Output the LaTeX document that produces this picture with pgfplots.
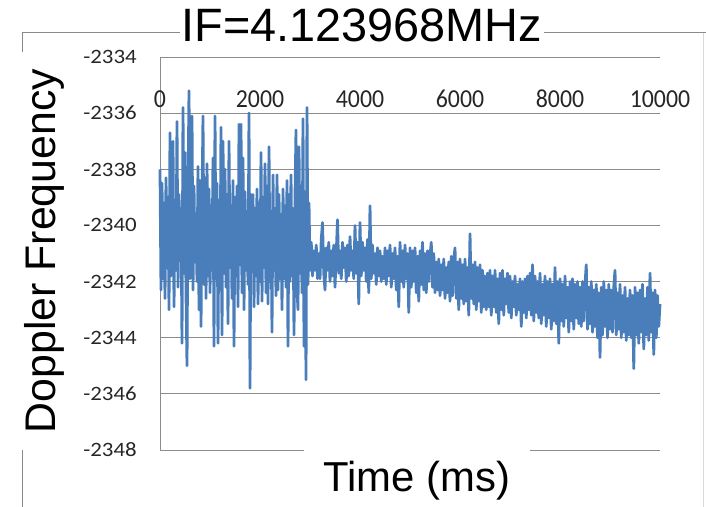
\documentclass[border=0pt]{standalone}
\usepackage{pgfplots}
\pgfplotsset{compat=1.18}
\usepackage{fontspec}
\setmainfont{Liberation Sans}
\newfontfamily\calibri{Carlito}
\definecolor{serblue}{HTML}{4A7EBB}
\definecolor{gridgray}{HTML}{8C8C8C}
\definecolor{bordergray}{HTML}{8A8A8A}
\begin{document}
\begin{tikzpicture}[x=1bp,y=1bp]
\path[use as bounding box] (0,0) rectangle (706,-507);
\draw[bordergray, line width=1bp] (22,-507) -- (22,-33) -- (706,-33);
\draw[black!15, line width=1bp] (703,-33) -- (703,-507);
\begin{axis}[
  at={(160bp,-450bp)}, anchor=south west,
  scale only axis, width=500bp, height=393bp,
  xmin=0, xmax=10000, ymin=-2348, ymax=-2334,
  ytick={-2348,-2346,...,-2334},
  xtick={0,2000,...,10000},
  scaled x ticks=false, scaled y ticks=false,
  axis x line*=top, axis y line*=left,
  x axis line style={draw=none},
  y axis line style={draw=gridgray, line width=1bp, -},
  ymajorgrids, grid style={gridgray, line width=1bp},
  major tick length=0pt,
  /pgf/number format/assume math mode=true,
  /pgf/number format/1000 sep={},
  xticklabel style={font=\calibri\fontsize{26}{26}\selectfont, anchor=base, inner sep=0pt, yshift=-50bp, xscale=0.92, text=black!85},
  yticklabel style={font=\calibri\fontsize{20.5}{20.5}\selectfont, anchor=east, inner sep=0pt, xshift=-23bp, xscale=1.12, text=black!85},
  clip=false,
]
\addplot[serblue, line width=2.8bp, line join=round, no markers] table {
x y
0 -2338.0
20 -2342.3
40 -2338.5
60 -2341.9
80 -2339.2
100 -2342.6
120 -2338.3
140 -2341.5
160 -2339.0
180 -2343.0
200 -2336.7
220 -2341.8
240 -2338.6
260 -2337.0
280 -2342.9
300 -2339.1
320 -2341.6
340 -2336.3
360 -2342.2
380 -2338.9
400 -2341.0
420 -2339.4
440 -2344.2
460 -2335.8
480 -2341.7
500 -2337.4
520 -2342.4
540 -2345.0
560 -2338.8
580 -2335.2
600 -2341.9
620 -2339.0
640 -2336.1
660 -2342.3
680 -2338.6
700 -2341.3
720 -2339.7
740 -2342.0
760 -2337.9
780 -2343.0
800 -2338.4
820 -2343.6
840 -2339.2
860 -2336.1
880 -2342.1
900 -2338.3
920 -2342.6
940 -2337.8
960 -2341.8
980 -2338.7
1000 -2342.4
1020 -2339.3
1040 -2341.6
1060 -2337.6
1080 -2344.3
1100 -2336.1
1120 -2341.9
1140 -2338.5
1160 -2344.2
1180 -2339.1
1200 -2342.3
1220 -2336.5
1240 -2343.9
1260 -2337.0
1280 -2341.7
1300 -2338.0
1320 -2342.2
1340 -2338.9
1360 -2343.5
1380 -2337.0
1400 -2341.5
1420 -2339.3
1440 -2342.6
1460 -2338.4
1480 -2344.3
1500 -2339.0
1520 -2341.8
1540 -2338.6
1560 -2342.9
1580 -2336.4
1600 -2341.4
1620 -2336.4
1640 -2342.4
1660 -2337.6
1680 -2343.0
1700 -2338.8
1720 -2341.6
1740 -2339.5
1760 -2342.1
1780 -2336.0
1800 -2345.8
1820 -2338.9
1840 -2341.1
1860 -2338.9
1880 -2342.9
1900 -2339.4
1920 -2341.8
1940 -2338.7
1960 -2342.8
1980 -2339.2
2000 -2342.0
2020 -2337.4
2040 -2342.7
2060 -2339.0
2080 -2341.5
2100 -2337.8
2120 -2342.4
2140 -2338.6
2160 -2342.8
2180 -2337.2
2200 -2342.0
2220 -2339.5
2240 -2343.8
2260 -2338.2
2280 -2341.6
2300 -2339.4
2320 -2342.5
2340 -2338.2
2360 -2342.3
2380 -2338.9
2400 -2341.9
2420 -2339.6
2440 -2343.0
2460 -2338.7
2480 -2341.9
2500 -2339.3
2520 -2342.2
2540 -2338.4
2560 -2344.3
2580 -2338.9
2600 -2342.0
2620 -2338.2
2640 -2341.8
2660 -2339.4
2680 -2343.9
2700 -2339.0
2720 -2336.6
2740 -2342.3
2760 -2343.0
2780 -2337.2
2800 -2341.7
2820 -2338.6
2840 -2342.4
2860 -2336.2
2880 -2344.3
2900 -2338.8
2920 -2345.5
2940 -2335.8
2960 -2342.1
2980 -2339.2
3000 -2341.6
3025 -2340.6
3050 -2341.8
3075 -2340.9
3100 -2341.6
3125 -2340.7
3150 -2341.9
3175 -2341.0
3200 -2341.9
3225 -2340.5
3250 -2339.9
3275 -2341.7
3300 -2342.3
3325 -2340.8
3350 -2341.6
3375 -2340.6
3400 -2342.0
3425 -2340.9
3450 -2341.8
3475 -2340.7
3500 -2342.2
3525 -2341.0
3550 -2339.8
3575 -2341.7
3600 -2340.9
3625 -2341.9
3650 -2340.6
3675 -2341.5
3700 -2340.8
3725 -2342.0
3750 -2340.7
3775 -2341.8
3800 -2340.4
3825 -2341.6
3850 -2340.9
3875 -2341.9
3900 -2340.0
3925 -2341.7
3950 -2340.6
3975 -2342.8
4000 -2339.9
4025 -2341.8
4050 -2340.6
4075 -2341.6
4100 -2340.8
4125 -2342.0
4150 -2340.5
4175 -2342.4
4200 -2339.3
4225 -2341.9
4250 -2340.7
4275 -2341.7
4300 -2341.0
4325 -2342.1
4350 -2340.8
4375 -2341.8
4400 -2340.9
4425 -2342.0
4450 -2341.1
4475 -2341.9
4500 -2340.8
4525 -2342.1
4550 -2340.9
4575 -2341.8
4600 -2340.7
4625 -2342.2
4650 -2341.0
4675 -2341.9
4700 -2340.8
4725 -2342.3
4750 -2341.1
4775 -2342.9
4800 -2340.6
4825 -2342.0
4850 -2340.9
4875 -2342.2
4900 -2340.7
4925 -2341.9
4950 -2341.0
4975 -2343.1
5000 -2340.8
5025 -2342.2
5050 -2340.9
5075 -2342.0
5100 -2340.8
5125 -2342.4
5150 -2341.1
5175 -2342.7
5200 -2340.9
5225 -2342.1
5250 -2340.6
5275 -2342.3
5300 -2341.0
5325 -2342.4
5350 -2340.9
5375 -2342.0
5400 -2341.1
5425 -2340.6
5450 -2342.2
5475 -2341.0
5500 -2342.4
5525 -2341.3
5550 -2342.3
5575 -2341.2
5600 -2342.5
5625 -2341.4
5650 -2342.3
5675 -2341.2
5700 -2342.6
5725 -2341.5
5750 -2342.4
5775 -2341.3
5800 -2342.7
5825 -2341.1
5850 -2342.5
5875 -2341.2
5900 -2340.8
5925 -2342.6
5950 -2341.3
5975 -2343.0
6000 -2341.2
6025 -2342.6
6050 -2341.4
6075 -2342.8
6100 -2341.2
6125 -2342.7
6150 -2341.5
6175 -2343.2
6200 -2340.3
6225 -2342.6
6250 -2341.4
6275 -2342.8
6300 -2341.3
6325 -2343.0
6350 -2341.5
6375 -2342.7
6400 -2341.4
6425 -2343.1
6450 -2341.6
6475 -2342.9
6500 -2341.8
6525 -2343.0
6550 -2341.7
6575 -2342.9
6600 -2341.6
6625 -2343.2
6650 -2341.8
6675 -2342.9
6700 -2341.6
6725 -2343.1
6750 -2341.9
6775 -2343.5
6800 -2341.7
6825 -2343.0
6850 -2341.6
6875 -2343.2
6900 -2341.9
6925 -2342.8
6950 -2341.7
6975 -2343.1
7000 -2341.8
7025 -2343.3
7050 -2342.0
7075 -2342.9
7100 -2341.8
7125 -2343.2
7150 -2342.1
7175 -2343.0
7200 -2341.9
7225 -2343.6
7250 -2342.0
7275 -2343.1
7300 -2341.9
7325 -2343.3
7350 -2341.8
7375 -2343.0
7400 -2341.7
7425 -2343.2
7450 -2341.4
7475 -2343.4
7500 -2341.8
7525 -2343.1
7550 -2342.0
7575 -2343.3
7600 -2341.7
7625 -2343.5
7650 -2342.1
7675 -2343.2
7700 -2341.8
7725 -2343.6
7750 -2342.0
7775 -2343.3
7800 -2341.9
7825 -2343.7
7850 -2342.1
7875 -2343.4
7900 -2341.5
7925 -2343.5
7950 -2342.0
7975 -2344.2
8000 -2341.9
8025 -2343.4
8050 -2342.1
8075 -2343.6
8100 -2341.8
8125 -2343.3
8150 -2342.2
8175 -2343.8
8200 -2342.0
8225 -2343.4
8250 -2341.9
8275 -2343.7
8300 -2342.1
8325 -2343.3
8350 -2342.0
8375 -2343.5
8400 -2342.2
8425 -2343.6
8450 -2342.0
8475 -2343.4
8500 -2342.1
8525 -2341.4
8550 -2343.7
8575 -2342.2
8600 -2343.5
8625 -2342.0
8650 -2343.8
8675 -2342.3
8700 -2343.6
8725 -2342.1
8750 -2344.0
8775 -2342.4
8800 -2344.7
8825 -2342.2
8850 -2343.9
8875 -2342.0
8900 -2343.6
8925 -2342.3
8950 -2344.0
8975 -2342.1
9000 -2343.7
9025 -2342.3
9050 -2343.8
9075 -2342.2
9100 -2341.6
9125 -2343.9
9150 -2342.4
9175 -2343.7
9200 -2342.1
9225 -2344.0
9250 -2342.5
9275 -2343.8
9300 -2342.2
9325 -2344.1
9350 -2342.6
9375 -2343.9
9400 -2342.3
9425 -2344.0
9450 -2342.5
9475 -2345.1
9500 -2342.2
9525 -2343.9
9550 -2342.4
9575 -2344.2
9600 -2342.3
9625 -2343.8
9650 -2342.1
9675 -2344.4
9700 -2342.6
9725 -2343.9
9750 -2342.2
9775 -2344.1
9800 -2341.7
9825 -2343.8
9850 -2342.4
9875 -2344.6
9900 -2342.3
9925 -2344.0
9950 -2342.5
9975 -2343.6
10000 -2342.8
};
\end{axis}
\node[font=\fontsize{47}{47}\selectfont, fill=white, inner xsep=2bp, inner ysep=1bp, anchor=base] at (362,-42) {IF=4.123968MHz};
\node[font=\fontsize{43}{43}\selectfont, fill=white, rotate=90, anchor=base, inner xsep=17bp, inner ysep=4bp] at (55,-251) {Doppler Frequency};
\node[font=\fontsize{42}{42}\selectfont, fill=white, anchor=base, inner xsep=20bp, inner ysep=14bp] at (417,-491) {Time (ms)};
\end{tikzpicture}
\end{document}
